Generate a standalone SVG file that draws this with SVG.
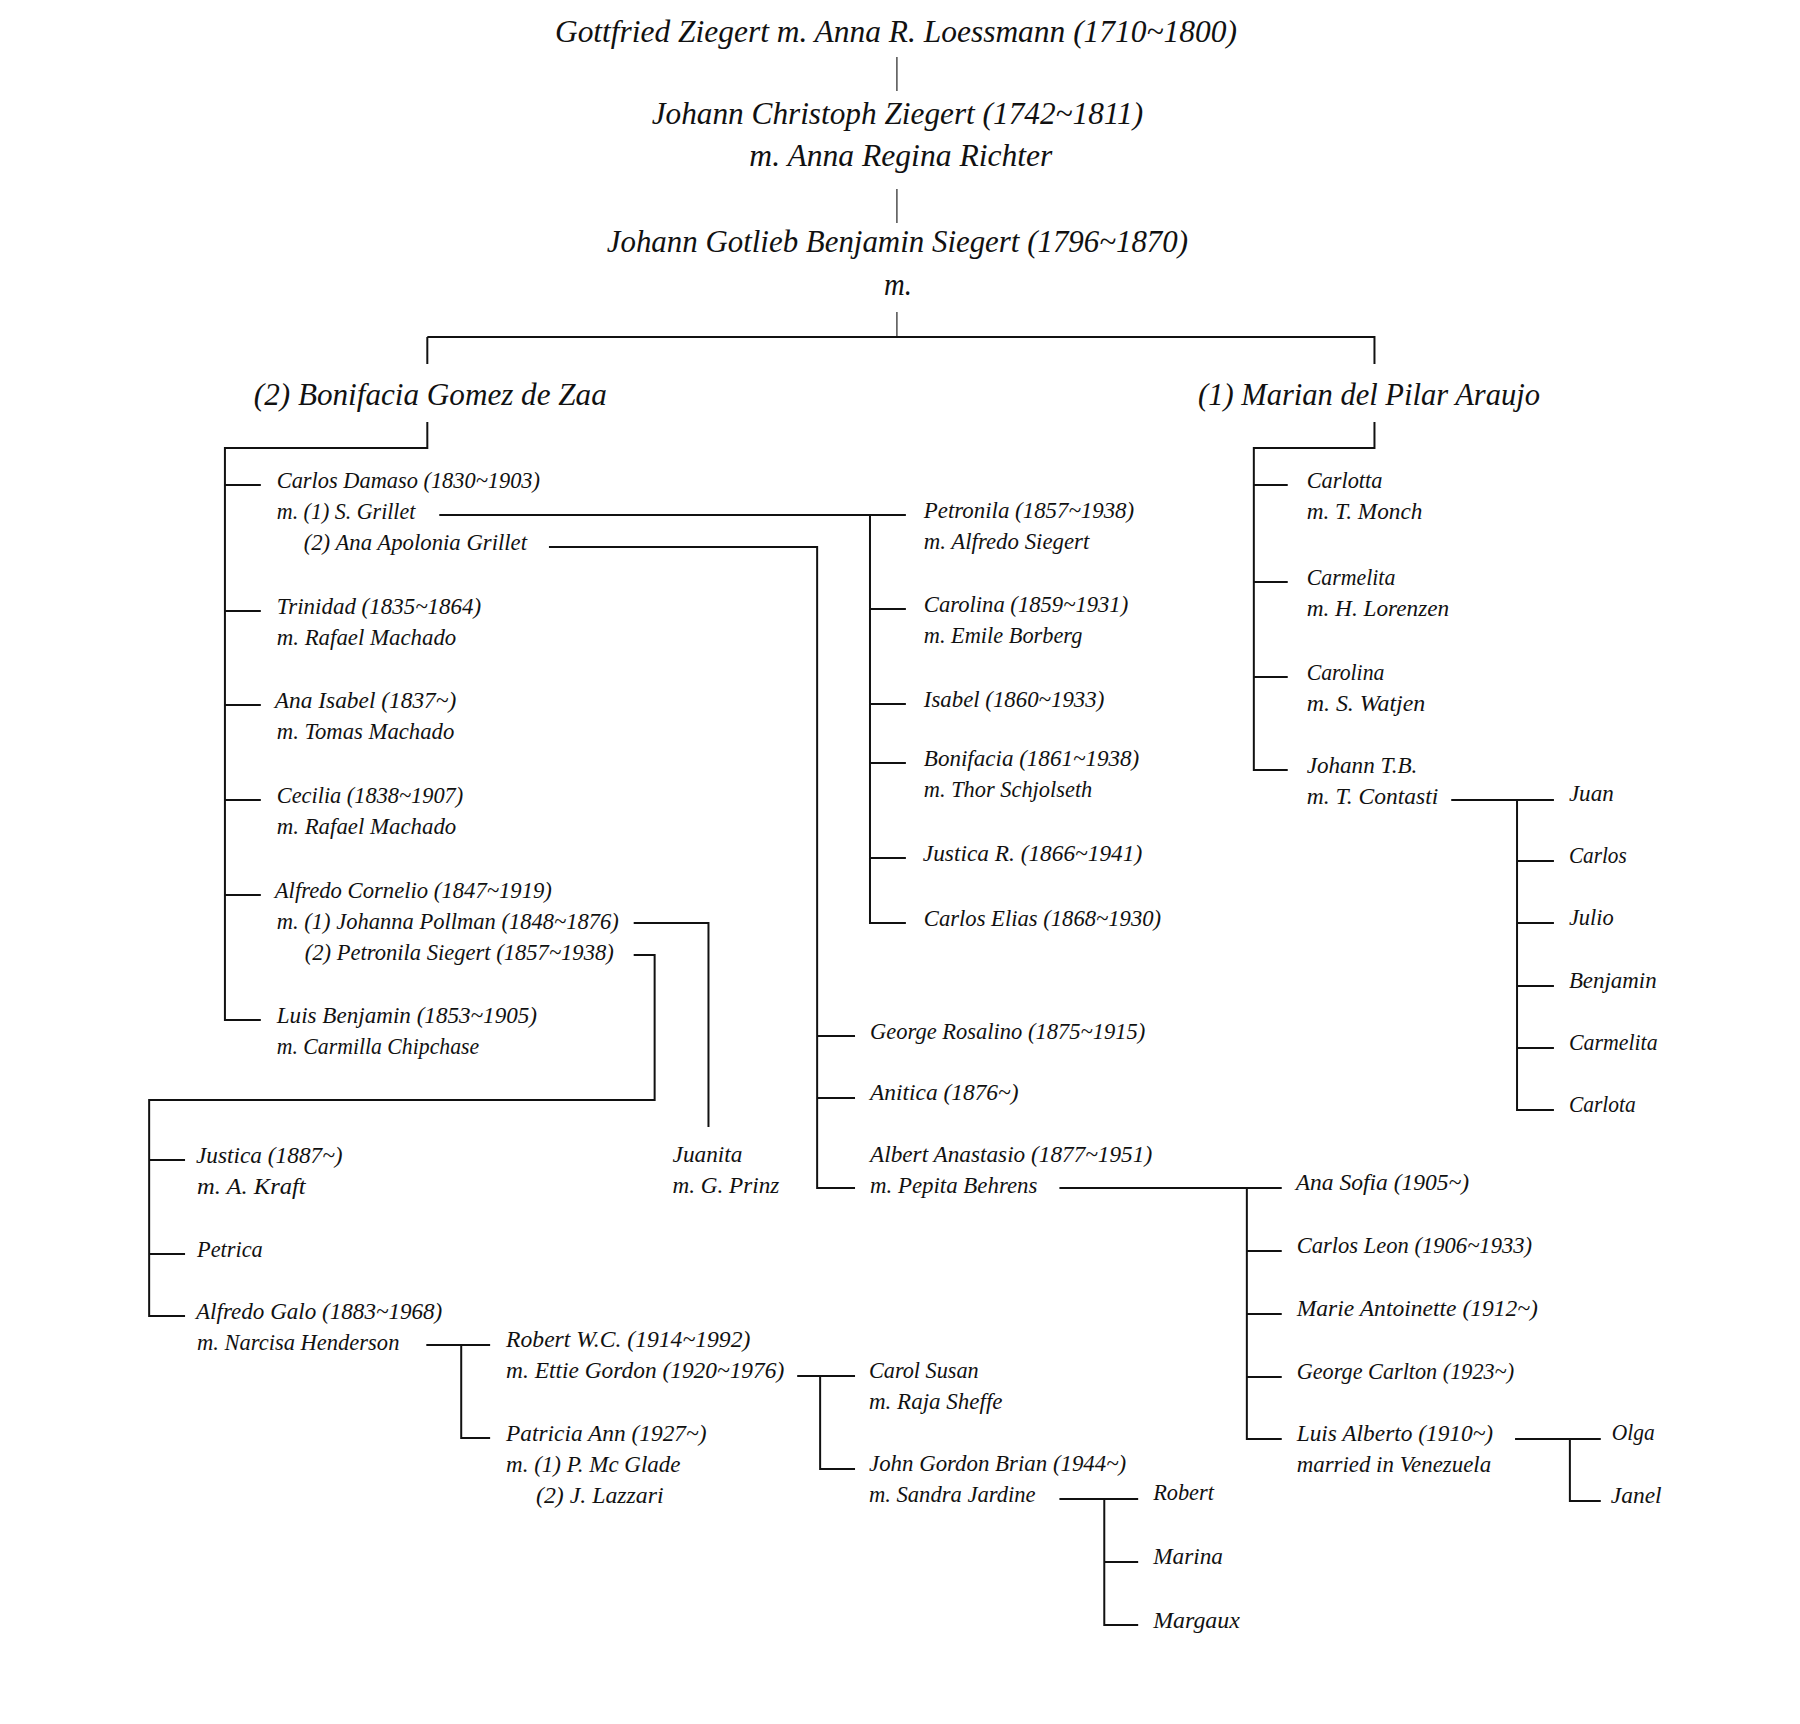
<svg xmlns="http://www.w3.org/2000/svg" width="1800" height="1724" viewBox="0 0 1800 1724">
<style>
text{font-family:"Liberation Serif","Times New Roman",serif;font-style:italic;fill:#111;font-size:24px}
text.h{font-size:32px}
.c{stroke:#111;stroke-width:2;fill:none}
.th{stroke:#333;stroke-width:1.3;fill:none}
</style>
<rect width="1800" height="1724" fill="#fff"/>
<g transform="matrix(0.997,0,0,1,0.6,0)">
<g id="connectors">
<path class="th" d="M899,57V91M899,189V223M899,312V337"/>
<path class="c" d="M428,337H1379M428,337V364M1378,337V364"/>
<path class="c" d="M428,422V448H225V1020H261M225,485H261M225,611H261M225,705H261M225,800H261M225,895H261"/>
<path class="c" d="M440,515H908M872,515V923H908M872,609H908M872,704H908M872,763H908M872,858H908"/>
<path class="c" d="M550,547H819V1188H857M819,1036H857M819,1098H857"/>
<path class="c" d="M1062,1188H1285M1250,1188V1439H1285M1250,1251H1285M1250,1314H1285M1250,1377H1285"/>
<path class="c" d="M1519,1439H1605M1574,1439V1501H1605"/>
<path class="c" d="M635,923H710V1127"/>
<path class="c" d="M635,955H656V1100H149V1316H185M149,1160H185M149,1254H185"/>
<path class="c" d="M427,1345H491M462,1345V1438H491"/>
<path class="c" d="M799,1376H857M822,1376V1469H857"/>
<path class="c" d="M1062,1499H1141M1107,1499V1625H1141M1107,1562H1141"/>
<path class="c" d="M1378,422V448H1257V770H1291M1257,485H1291M1257,582H1291M1257,677H1291"/>
<path class="c" d="M1455,800H1558M1521,800V1110H1558M1521,861H1558M1521,923H1558M1521,986H1558M1521,1048H1558"/>
</g>
<g id="n-gottfried"><text class="h" x="556" y="42" textLength="684" lengthAdjust="spacingAndGlyphs">Gottfried Ziegert m. Anna R. Loessmann (1710~1800)</text></g>
<g id="n-johann-christoph"><text class="h" x="653" y="124" textLength="493" lengthAdjust="spacingAndGlyphs">Johann Christoph Ziegert (1742~1811)</text><text class="h" x="751" y="166" textLength="304" lengthAdjust="spacingAndGlyphs">m. Anna Regina Richter</text></g>
<g id="n-johann-gotlieb"><text class="h" x="608" y="252" textLength="583" lengthAdjust="spacingAndGlyphs">Johann Gotlieb Benjamin Siegert (1796~1870)</text><text class="h" x="886" y="295" textLength="28" lengthAdjust="spacingAndGlyphs">m.</text></g>
<g id="n-bonifacia"><text class="h" x="254" y="405" textLength="354" lengthAdjust="spacingAndGlyphs">(2) Bonifacia Gomez de Zaa</text></g>
<g id="n-marian"><text class="h" x="1201" y="405" textLength="343" lengthAdjust="spacingAndGlyphs">(1) Marian del Pilar Araujo</text></g>

<g id="n-carlos-damaso"><text x="277" y="488" textLength="264" lengthAdjust="spacingAndGlyphs">Carlos Damaso (1830~1903)</text><text x="277" y="519" textLength="139" lengthAdjust="spacingAndGlyphs">m. (1) S. Grillet</text><text x="304" y="550" textLength="224" lengthAdjust="spacingAndGlyphs">(2) Ana Apolonia Grillet</text></g>
<g id="n-trinidad"><text x="277" y="614" textLength="205" lengthAdjust="spacingAndGlyphs">Trinidad (1835~1864)</text><text x="277" y="645" textLength="180" lengthAdjust="spacingAndGlyphs">m. Rafael Machado</text></g>
<g id="n-ana-isabel"><text x="275" y="708" textLength="182" lengthAdjust="spacingAndGlyphs">Ana Isabel (1837~)</text><text x="277" y="739" textLength="178" lengthAdjust="spacingAndGlyphs">m. Tomas Machado</text></g>
<g id="n-cecilia"><text x="277" y="803" textLength="187" lengthAdjust="spacingAndGlyphs">Cecilia (1838~1907)</text><text x="277" y="834" textLength="180" lengthAdjust="spacingAndGlyphs">m. Rafael Machado</text></g>
<g id="n-alfredo-cornelio"><text x="275" y="898" textLength="278" lengthAdjust="spacingAndGlyphs">Alfredo Cornelio (1847~1919)</text><text x="277" y="929" textLength="343" lengthAdjust="spacingAndGlyphs">m. (1) Johanna Pollman (1848~1876)</text><text x="305" y="960" textLength="310" lengthAdjust="spacingAndGlyphs">(2) Petronila Siegert (1857~1938)</text></g>
<g id="n-luis-benjamin"><text x="277" y="1023" textLength="261" lengthAdjust="spacingAndGlyphs">Luis Benjamin (1853~1905)</text><text x="277" y="1054" textLength="203" lengthAdjust="spacingAndGlyphs">m. Carmilla Chipchase</text></g>

<g id="n-petronila"><text x="926" y="518" textLength="211" lengthAdjust="spacingAndGlyphs">Petronila (1857~1938)</text><text x="926" y="549" textLength="166" lengthAdjust="spacingAndGlyphs">m. Alfredo Siegert</text></g>
<g id="n-carolina-1859"><text x="926" y="612" textLength="205" lengthAdjust="spacingAndGlyphs">Carolina (1859~1931)</text><text x="926" y="643" textLength="159" lengthAdjust="spacingAndGlyphs">m. Emile Borberg</text></g>
<g id="n-isabel"><text x="926" y="707" textLength="181" lengthAdjust="spacingAndGlyphs">Isabel (1860~1933)</text></g>
<g id="n-bonifacia-1861"><text x="926" y="766" textLength="216" lengthAdjust="spacingAndGlyphs">Bonifacia (1861~1938)</text><text x="926" y="797" textLength="169" lengthAdjust="spacingAndGlyphs">m. Thor Schjolseth</text></g>
<g id="n-justica-r"><text x="925" y="861" textLength="220" lengthAdjust="spacingAndGlyphs">Justica R. (1866~1941)</text></g>
<g id="n-carlos-elias"><text x="926" y="926" textLength="238" lengthAdjust="spacingAndGlyphs">Carlos Elias (1868~1930)</text></g>

<g id="n-carlotta"><text x="1310" y="488" textLength="76" lengthAdjust="spacingAndGlyphs">Carlotta</text><text x="1310" y="519" textLength="116" lengthAdjust="spacingAndGlyphs">m. T. Monch</text></g>
<g id="n-carmelita"><text x="1310" y="585" textLength="89" lengthAdjust="spacingAndGlyphs">Carmelita</text><text x="1310" y="616" textLength="143" lengthAdjust="spacingAndGlyphs">m. H. Lorenzen</text></g>
<g id="n-carolina"><text x="1310" y="680" textLength="78" lengthAdjust="spacingAndGlyphs">Carolina</text><text x="1310" y="711" textLength="119" lengthAdjust="spacingAndGlyphs">m. S. Watjen</text></g>
<g id="n-johann-tb"><text x="1310" y="773" textLength="111" lengthAdjust="spacingAndGlyphs">Johann T.B.</text><text x="1310" y="804" textLength="132" lengthAdjust="spacingAndGlyphs">m. T. Contasti</text></g>
<g id="n-juan"><text x="1573" y="801" textLength="45" lengthAdjust="spacingAndGlyphs">Juan</text></g>
<g id="n-carlos"><text x="1573" y="863" textLength="58" lengthAdjust="spacingAndGlyphs">Carlos</text></g>
<g id="n-julio"><text x="1573" y="925" textLength="45" lengthAdjust="spacingAndGlyphs">Julio</text></g>
<g id="n-benjamin"><text x="1573" y="988" textLength="88" lengthAdjust="spacingAndGlyphs">Benjamin</text></g>
<g id="n-carmelita-2"><text x="1573" y="1050" textLength="89" lengthAdjust="spacingAndGlyphs">Carmelita</text></g>
<g id="n-carlota"><text x="1573" y="1112" textLength="67" lengthAdjust="spacingAndGlyphs">Carlota</text></g>

<g id="n-george-rosalino"><text x="872" y="1039" textLength="276" lengthAdjust="spacingAndGlyphs">George Rosalino (1875~1915)</text></g>
<g id="n-anitica"><text x="872" y="1100" textLength="149" lengthAdjust="spacingAndGlyphs">Anitica (1876~)</text></g>
<g id="n-albert-anastasio"><text x="872" y="1162" textLength="283" lengthAdjust="spacingAndGlyphs">Albert Anastasio (1877~1951)</text><text x="872" y="1193" textLength="168" lengthAdjust="spacingAndGlyphs">m. Pepita Behrens</text></g>
<g id="n-ana-sofia"><text x="1299" y="1190" textLength="174" lengthAdjust="spacingAndGlyphs">Ana Sofia (1905~)</text></g>
<g id="n-carlos-leon"><text x="1300" y="1253" textLength="236" lengthAdjust="spacingAndGlyphs">Carlos Leon (1906~1933)</text></g>
<g id="n-marie-antoinette"><text x="1300" y="1316" textLength="242" lengthAdjust="spacingAndGlyphs">Marie Antoinette (1912~)</text></g>
<g id="n-george-carlton"><text x="1300" y="1379" textLength="218" lengthAdjust="spacingAndGlyphs">George Carlton (1923~)</text></g>
<g id="n-luis-alberto"><text x="1300" y="1441" textLength="197" lengthAdjust="spacingAndGlyphs">Luis Alberto (1910~)</text><text x="1300" y="1472" textLength="195" lengthAdjust="spacingAndGlyphs">married in Venezuela</text></g>
<g id="n-olga"><text x="1616" y="1440" textLength="43" lengthAdjust="spacingAndGlyphs">Olga</text></g>
<g id="n-janel"><text x="1615" y="1503" textLength="51" lengthAdjust="spacingAndGlyphs">Janel</text></g>

<g id="n-juanita"><text x="674" y="1162" textLength="70" lengthAdjust="spacingAndGlyphs">Juanita</text><text x="674" y="1193" textLength="107" lengthAdjust="spacingAndGlyphs">m. G. Prinz</text></g>

<g id="n-justica-1887"><text x="196" y="1163" textLength="147" lengthAdjust="spacingAndGlyphs">Justica (1887~)</text><text x="197" y="1194" textLength="109" lengthAdjust="spacingAndGlyphs">m. A. Kraft</text></g>
<g id="n-petrica"><text x="197" y="1257" textLength="66" lengthAdjust="spacingAndGlyphs">Petrica</text></g>
<g id="n-alfredo-galo"><text x="196" y="1319" textLength="247" lengthAdjust="spacingAndGlyphs">Alfredo Galo (1883~1968)</text><text x="197" y="1350" textLength="203" lengthAdjust="spacingAndGlyphs">m. Narcisa Henderson</text></g>
<g id="n-robert-wc"><text x="507" y="1347" textLength="245" lengthAdjust="spacingAndGlyphs">Robert W.C. (1914~1992)</text><text x="507" y="1378" textLength="279" lengthAdjust="spacingAndGlyphs">m. Ettie Gordon (1920~1976)</text></g>
<g id="n-patricia-ann"><text x="507" y="1441" textLength="201" lengthAdjust="spacingAndGlyphs">Patricia Ann (1927~)</text><text x="507" y="1472" textLength="175" lengthAdjust="spacingAndGlyphs">m. (1) P. Mc Glade</text><text x="537" y="1503" textLength="128" lengthAdjust="spacingAndGlyphs">(2) J. Lazzari</text></g>
<g id="n-carol-susan"><text x="871" y="1378" textLength="110" lengthAdjust="spacingAndGlyphs">Carol Susan</text><text x="871" y="1409" textLength="134" lengthAdjust="spacingAndGlyphs">m. Raja Sheffe</text></g>
<g id="n-john-gordon-brian"><text x="871" y="1471" textLength="258" lengthAdjust="spacingAndGlyphs">John Gordon Brian (1944~)</text><text x="871" y="1502" textLength="167" lengthAdjust="spacingAndGlyphs">m. Sandra Jardine</text></g>
<g id="n-robert"><text x="1156" y="1500" textLength="61" lengthAdjust="spacingAndGlyphs">Robert</text></g>
<g id="n-marina"><text x="1156" y="1564" textLength="70" lengthAdjust="spacingAndGlyphs">Marina</text></g>
<g id="n-margaux"><text x="1156" y="1628" textLength="87" lengthAdjust="spacingAndGlyphs">Margaux</text></g>
</g>
</svg>
